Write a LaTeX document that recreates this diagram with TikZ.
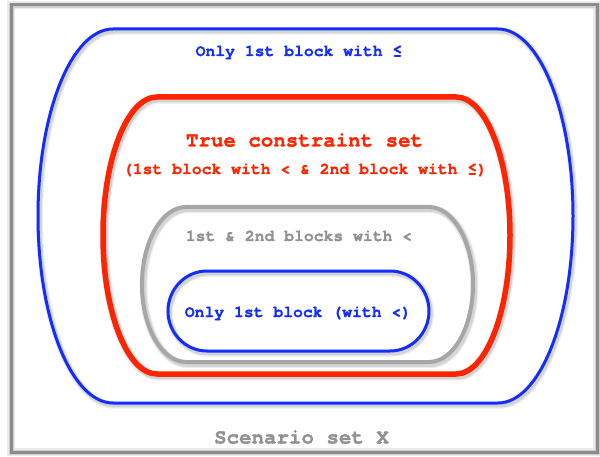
\documentclass[tikz,border=0pt]{standalone}
\usepackage{fontspec}
\newfontfamily\monob{TeX Gyre Cursor Bold}[FakeBold=1.2]
\definecolor{setblue}{RGB}{20,45,255}
\definecolor{setred}{RGB}{255,36,0}
\definecolor{setgray}{RGB}{166,166,166}
\definecolor{labelgray}{RGB}{145,145,145}
\definecolor{framegray}{RGB}{140,140,140}

% capsule: left/right centres of the end arcs, top, bottom, x radius
\newcommand{\capsulepath}[5]{%
  (#1,#3) -- (#2,#3)
  arc[start angle=90,end angle=-90,x radius=#5,y radius={(#3-#4)/2}]
  -- (#1,#4)
  arc[start angle=270,end angle=90,x radius=#5,y radius={(#3-#4)/2}]
  -- cycle}

\tikzset{
  lbl/.style={font=\monob\fontsize{16.4}{18}\selectfont, anchor=base, inner sep=0pt},
  biglbl/.style={font=\monob\fontsize{20.8}{24}\selectfont, anchor=base, inner sep=0pt},
  shade1/.style={draw=black, draw opacity=0.07},
  shade2/.style={draw=black, draw opacity=0.10},
}

% a soft drop shadow under a stroked outline
\newcommand{\softshadow}[2]{%
  \draw[shade1, line width=#1+4pt, shift={(1.5,-2.2)}] #2;
  \draw[shade2, line width=#1+1.5pt, shift={(1.5,-2.2)}] #2;}

\begin{document}
\begin{tikzpicture}[x=1pt,y=1pt]
\useasboundingbox (0,0) rectangle (600,456);
\fill[white] (0,0) rectangle (600,456);

% outer frame: scenario set
\draw[draw=black, draw opacity=0.08, line width=8pt] (11,4) rectangle (597,451);
\draw[draw=black, draw opacity=0.12, line width=5pt, shift={(0.8,-0.8)}] (11,4) rectangle (597,451);
\draw[framegray, line width=3pt] (11,4) rectangle (597,451);

% only 1st block with <=
\softshadow{3pt}{\capsulepath{113}{498}{427}{53}{75}}
\draw[setblue, line width=3pt] \capsulepath{113}{498}{427}{53}{75};

% true constraint set
\softshadow{5pt}{\capsulepath{157}{456}{359}{82}{54}}
\draw[setred, line width=5.5pt] \capsulepath{157}{456}{359}{82}{54};

% 1st & 2nd blocks with <
\softshadow{4pt}{\capsulepath{186}{429}{249}{94}{44}}
\draw[setgray, line width=4pt] \capsulepath{186}{429}{249}{94}{44};

% only 1st block (with <)
\softshadow{3pt}{\capsulepath{207}{390}{185}{105}{39}}
\draw[setblue, line width=3pt] \capsulepath{207}{390}{185}{105}{39};

% labels
\node[lbl, text=setblue] (leq1) at (299,400) {Only 1st block with ≤};
\node[biglbl, text=setred] (truecs) at (304.5,309.5) {True constraint set};
\node[lbl, text=setred] (truedef) at (305,282) {(1st block with < \& 2nd block with ≤)};
\node[lbl, text=labelgray] (both) at (299,215) {1st \& 2nd blocks with <};
\node[lbl, text=setblue] (lt1) at (298,139) {Only 1st block (with <)};
\node[biglbl, text=labelgray] (scen) at (301.5,12.5) {Scenario set X};
\end{tikzpicture}
\end{document}
